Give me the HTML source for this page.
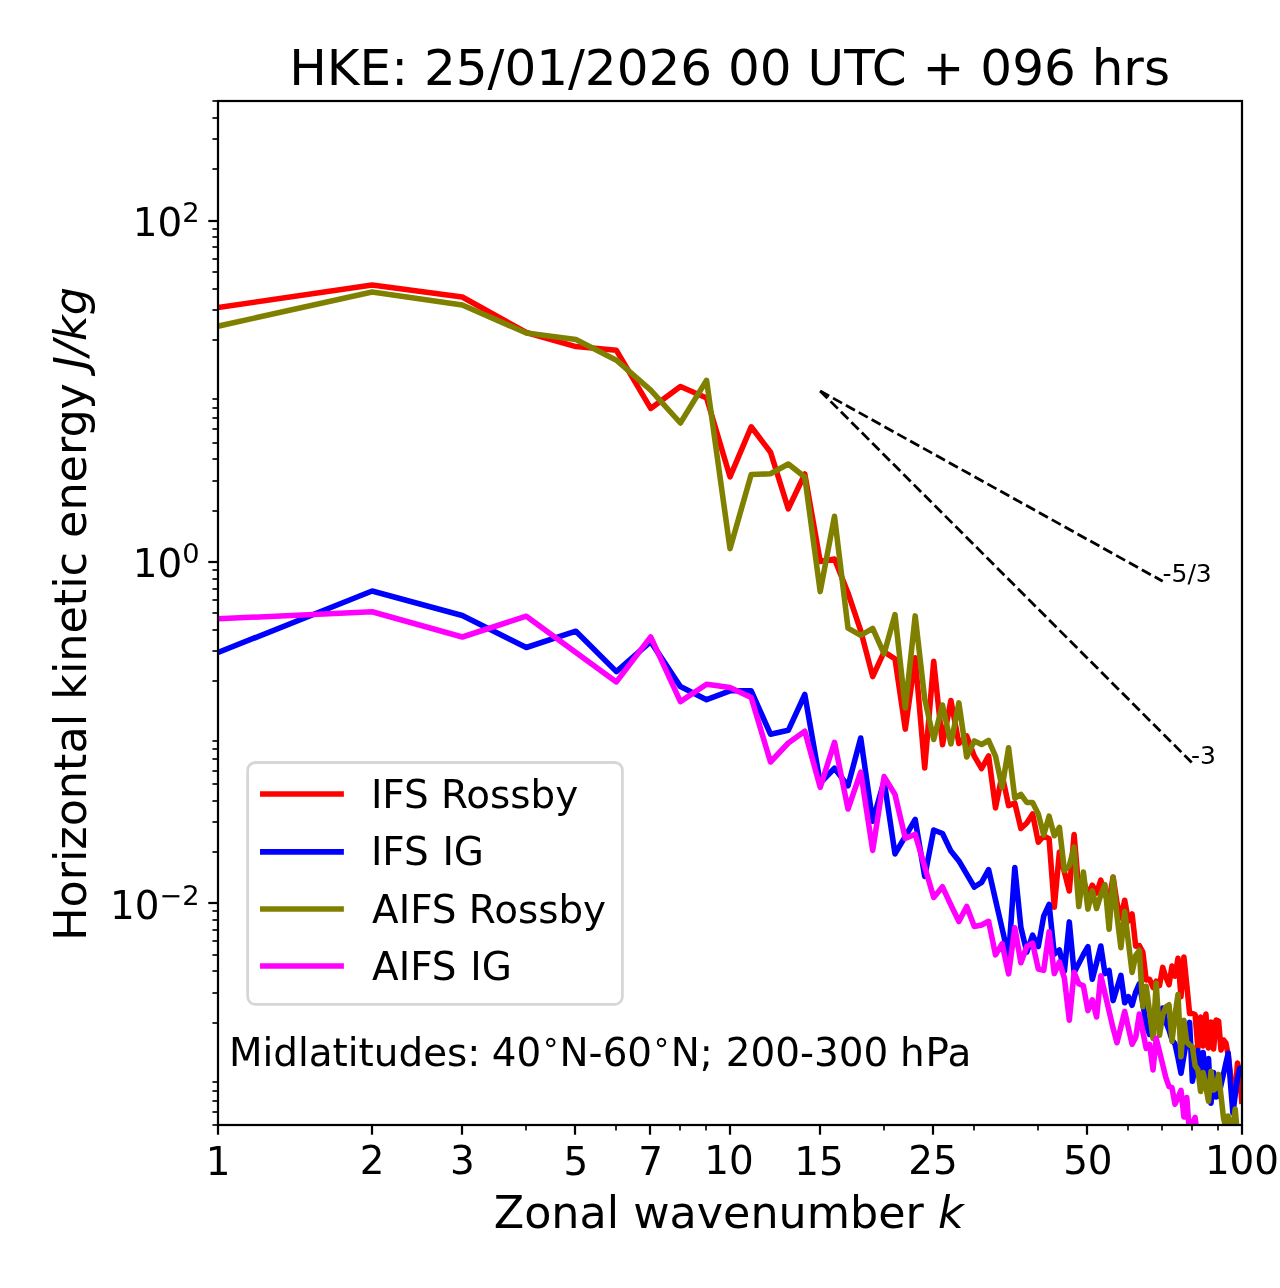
<!DOCTYPE html>
<html lang="en"><head><meta charset="utf-8"><title>HKE spectra</title>
<style>html,body{margin:0;padding:0;background:#fff}body{width:1280px;height:1288px;overflow:hidden}svg{display:block}text{font-family:"DejaVu Sans","Liberation Sans",sans-serif;fill:#000}.it{font-style:italic}</style>
</head><body>
<svg width="1280" height="1288" viewBox="0 0 1280 1288">
<rect x="0" y="0" width="1280" height="1288" fill="#fff"/>
<defs><clipPath id="ax"><rect x="218.0" y="101.0" width="1024.0" height="1024.0"/></clipPath></defs>
<g stroke="#000" fill="none">
<line x1="218" y1="1125.0" x2="218" y2="1134.72" stroke-width="2.22"/>
<line x1="372" y1="1125.0" x2="372" y2="1134.72" stroke-width="2.22"/>
<line x1="462" y1="1125.0" x2="462" y2="1134.72" stroke-width="2.22"/>
<line x1="575" y1="1125.0" x2="575" y2="1134.72" stroke-width="2.22"/>
<line x1="650" y1="1125.0" x2="650" y2="1134.72" stroke-width="2.22"/>
<line x1="730" y1="1125.0" x2="730" y2="1134.72" stroke-width="2.22"/>
<line x1="820" y1="1125.0" x2="820" y2="1134.72" stroke-width="2.22"/>
<line x1="933" y1="1125.0" x2="933" y2="1134.72" stroke-width="2.22"/>
<line x1="1087" y1="1125.0" x2="1087" y2="1134.72" stroke-width="2.22"/>
<line x1="1242" y1="1125.0" x2="1242" y2="1134.72" stroke-width="2.22"/>
<line x1="526" y1="1125.0" x2="526" y2="1130.56" stroke-width="1.67"/>
<line x1="616" y1="1125.0" x2="616" y2="1130.56" stroke-width="1.67"/>
<line x1="680" y1="1125.0" x2="680" y2="1130.56" stroke-width="1.67"/>
<line x1="706" y1="1125.0" x2="706" y2="1130.56" stroke-width="1.67"/>
<line x1="884" y1="1125.0" x2="884" y2="1130.56" stroke-width="1.67"/>
<line x1="974" y1="1125.0" x2="974" y2="1130.56" stroke-width="1.67"/>
<line x1="1038" y1="1125.0" x2="1038" y2="1130.56" stroke-width="1.67"/>
<line x1="1128" y1="1125.0" x2="1128" y2="1130.56" stroke-width="1.67"/>
<line x1="1162" y1="1125.0" x2="1162" y2="1130.56" stroke-width="1.67"/>
<line x1="1192" y1="1125.0" x2="1192" y2="1130.56" stroke-width="1.67"/>
<line x1="1218" y1="1125.0" x2="1218" y2="1130.56" stroke-width="1.67"/>
<line x1="218.0" y1="221" x2="208.28" y2="221" stroke-width="2.22"/>
<line x1="218.0" y1="562" x2="208.28" y2="562" stroke-width="2.22"/>
<line x1="218.0" y1="903" x2="208.28" y2="903" stroke-width="2.22"/>
<line x1="218.0" y1="1125" x2="212.44" y2="1125" stroke-width="1.67"/>
<line x1="218.0" y1="1112" x2="212.44" y2="1112" stroke-width="1.67"/>
<line x1="218.0" y1="1101" x2="212.44" y2="1101" stroke-width="1.67"/>
<line x1="218.0" y1="1091" x2="212.44" y2="1091" stroke-width="1.67"/>
<line x1="218.0" y1="1082" x2="212.44" y2="1082" stroke-width="1.67"/>
<line x1="218.0" y1="1023" x2="212.44" y2="1023" stroke-width="1.67"/>
<line x1="218.0" y1="993" x2="212.44" y2="993" stroke-width="1.67"/>
<line x1="218.0" y1="971" x2="212.44" y2="971" stroke-width="1.67"/>
<line x1="218.0" y1="955" x2="212.44" y2="955" stroke-width="1.67"/>
<line x1="218.0" y1="941" x2="212.44" y2="941" stroke-width="1.67"/>
<line x1="218.0" y1="930" x2="212.44" y2="930" stroke-width="1.67"/>
<line x1="218.0" y1="920" x2="212.44" y2="920" stroke-width="1.67"/>
<line x1="218.0" y1="911" x2="212.44" y2="911" stroke-width="1.67"/>
<line x1="218.0" y1="852" x2="212.44" y2="852" stroke-width="1.67"/>
<line x1="218.0" y1="822" x2="212.44" y2="822" stroke-width="1.67"/>
<line x1="218.0" y1="801" x2="212.44" y2="801" stroke-width="1.67"/>
<line x1="218.0" y1="784" x2="212.44" y2="784" stroke-width="1.67"/>
<line x1="218.0" y1="771" x2="212.44" y2="771" stroke-width="1.67"/>
<line x1="218.0" y1="759" x2="212.44" y2="759" stroke-width="1.67"/>
<line x1="218.0" y1="749" x2="212.44" y2="749" stroke-width="1.67"/>
<line x1="218.0" y1="741" x2="212.44" y2="741" stroke-width="1.67"/>
<line x1="218.0" y1="681" x2="212.44" y2="681" stroke-width="1.67"/>
<line x1="218.0" y1="651" x2="212.44" y2="651" stroke-width="1.67"/>
<line x1="218.0" y1="630" x2="212.44" y2="630" stroke-width="1.67"/>
<line x1="218.0" y1="613" x2="212.44" y2="613" stroke-width="1.67"/>
<line x1="218.0" y1="600" x2="212.44" y2="600" stroke-width="1.67"/>
<line x1="218.0" y1="589" x2="212.44" y2="589" stroke-width="1.67"/>
<line x1="218.0" y1="579" x2="212.44" y2="579" stroke-width="1.67"/>
<line x1="218.0" y1="570" x2="212.44" y2="570" stroke-width="1.67"/>
<line x1="218.0" y1="511" x2="212.44" y2="511" stroke-width="1.67"/>
<line x1="218.0" y1="481" x2="212.44" y2="481" stroke-width="1.67"/>
<line x1="218.0" y1="459" x2="212.44" y2="459" stroke-width="1.67"/>
<line x1="218.0" y1="443" x2="212.44" y2="443" stroke-width="1.67"/>
<line x1="218.0" y1="429" x2="212.44" y2="429" stroke-width="1.67"/>
<line x1="218.0" y1="418" x2="212.44" y2="418" stroke-width="1.67"/>
<line x1="218.0" y1="408" x2="212.44" y2="408" stroke-width="1.67"/>
<line x1="218.0" y1="399" x2="212.44" y2="399" stroke-width="1.67"/>
<line x1="218.0" y1="340" x2="212.44" y2="340" stroke-width="1.67"/>
<line x1="218.0" y1="310" x2="212.44" y2="310" stroke-width="1.67"/>
<line x1="218.0" y1="289" x2="212.44" y2="289" stroke-width="1.67"/>
<line x1="218.0" y1="272" x2="212.44" y2="272" stroke-width="1.67"/>
<line x1="218.0" y1="259" x2="212.44" y2="259" stroke-width="1.67"/>
<line x1="218.0" y1="247" x2="212.44" y2="247" stroke-width="1.67"/>
<line x1="218.0" y1="237" x2="212.44" y2="237" stroke-width="1.67"/>
<line x1="218.0" y1="229" x2="212.44" y2="229" stroke-width="1.67"/>
<line x1="218.0" y1="169" x2="212.44" y2="169" stroke-width="1.67"/>
<line x1="218.0" y1="139" x2="212.44" y2="139" stroke-width="1.67"/>
<line x1="218.0" y1="118" x2="212.44" y2="118" stroke-width="1.67"/>
<line x1="218.0" y1="101" x2="212.44" y2="101" stroke-width="1.67"/>
</g>
<g clip-path="url(#ax)">
<polyline points="218.0,307.5 372.1,285.0 462.3,297.0 526.3,332.5 575.9,346.6 616.4,350.3 650.7,408.4 680.4,386.5 706.6,398.0 730.0,476.8 751.2,426.8 770.5,452.2 788.3,508.8 804.8,474.0 820.2,561.5 834.5,559.0 848.0,593.0 860.7,630.6 872.7,676.6 884.1,651.9 895.0,658.8 905.3,729.1 915.2,657.8 924.7,767.9 933.7,661.2 942.5,744.8 950.9,700.5 958.9,743.5 966.7,735.9 974.3,756.2 981.6,768.5 988.6,755.9 995.5,807.9 1002.1,775.0 1008.6,805.6 1014.8,803.0 1020.9,828.5 1026.8,823.0 1032.6,814.0 1038.3,842.2 1043.7,836.0 1049.1,838.8 1054.3,907.2 1059.4,852.1 1064.4,872.0 1069.3,891.0 1074.1,834.6 1078.8,890.0 1083.4,880.0 1087.9,895.0 1092.3,885.2 1096.6,893.0 1100.8,880.2 1105.0,895.0 1109.1,900.0 1113.1,877.0 1117.0,903.0 1120.9,918.0 1124.7,900.2 1128.4,921.0 1132.1,914.0 1135.7,946.2 1139.3,945.5 1142.8,952.0 1146.2,980.0 1149.6,979.3 1153.0,987.5 1156.2,981.2 1159.5,985.5 1162.7,967.4 1165.8,977.0 1169.0,984.8 1172.0,966.1 1175.0,976.2 1178.0,958.2 1181.0,996.7 1183.9,957.0 1186.8,985.0 1189.6,1013.5 1192.4,1013.5 1195.1,1014.5 1197.9,1048.0 1200.6,1017.0 1203.2,1046.0 1205.9,1014.0 1208.5,1048.0 1211.0,1022.0 1213.6,1049.0 1216.1,1020.0 1218.6,1021.0 1221.0,1050.0 1223.5,1040.0 1225.9,1043.0 1228.2,1055.0 1230.6,1075.0 1232.9,1090.0 1235.2,1095.0 1237.5,1063.0 1239.8,1075.0 1242.0,1104.0" fill="none" stroke="#ff0000" stroke-width="5.56" stroke-linejoin="round" stroke-linecap="butt"/>
<polyline points="218.0,652.5 372.1,591.0 462.3,615.5 526.3,647.5 575.9,631.2 616.4,671.6 650.7,641.6 680.4,686.6 706.6,699.7 730.0,690.8 751.2,690.8 770.5,734.2 788.3,730.3 804.8,694.5 820.2,783.0 834.5,768.3 848.0,785.9 860.7,738.0 872.7,821.3 884.1,781.0 895.0,853.9 905.3,836.3 915.2,819.5 924.7,876.4 933.7,830.0 942.5,833.5 950.9,851.1 958.9,860.9 966.7,874.2 974.3,887.0 981.6,882.3 988.6,869.6 995.5,899.8 1002.1,928.5 1008.6,957.0 1014.8,867.5 1020.9,927.5 1026.8,952.1 1032.6,935.2 1038.3,946.5 1043.7,916.2 1049.1,904.3 1054.3,954.2 1059.4,950.0 1064.4,971.1 1069.3,921.9 1074.1,972.5 1078.8,963.5 1083.4,954.5 1087.9,946.7 1092.3,979.3 1096.6,962.7 1100.8,946.0 1105.0,973.6 1109.1,970.5 1113.1,1000.6 1117.0,988.0 1120.9,975.4 1124.7,1002.8 1128.4,996.7 1132.1,1005.3 1135.7,992.0 1139.3,983.8 1142.8,1003.0 1146.2,1025.0 1149.6,1034.5 1153.0,1030.0 1156.2,1020.0 1159.5,1025.0 1162.7,1008.0 1165.8,1022.0 1169.0,1030.0 1172.0,1040.0 1175.0,1044.0 1178.0,1058.0 1181.0,1073.2 1183.9,1056.0 1186.8,1039.0 1189.6,1022.4 1192.4,1081.2 1195.1,1066.0 1197.9,1050.5 1200.6,1085.0 1203.2,1052.4 1205.9,1088.0 1208.5,1058.5 1211.0,1103.2 1213.6,1072.6 1216.1,1097.0 1218.6,1096.0 1221.0,1085.0 1223.5,1074.0 1225.9,1063.0 1228.2,1053.3 1230.6,1085.0 1232.9,1113.0 1235.2,1095.0 1237.5,1078.0 1239.8,1068.3 1242.0,1072.0" fill="none" stroke="#0000ff" stroke-width="5.56" stroke-linejoin="round" stroke-linecap="butt"/>
<polyline points="218.0,326.2 372.1,292.0 462.3,305.0 526.3,333.0 575.9,339.6 616.4,360.2 650.7,390.2 680.4,423.0 706.6,380.3 730.0,548.7 751.2,474.5 770.5,473.8 788.3,464.0 804.8,477.0 820.2,591.6 834.5,516.3 848.0,628.1 860.7,635.3 872.7,628.4 884.1,653.8 895.0,614.6 905.3,707.9 915.2,615.9 924.7,699.0 933.7,739.5 942.5,705.0 950.9,743.9 958.9,702.9 966.7,757.0 974.3,740.9 981.6,744.5 988.6,740.5 995.5,756.2 1002.1,787.2 1008.6,747.8 1014.8,798.1 1020.9,794.3 1026.8,802.5 1032.6,802.5 1038.3,814.0 1043.7,835.0 1049.1,816.2 1054.3,835.7 1059.4,827.4 1064.4,870.4 1069.3,865.6 1074.1,847.1 1078.8,906.6 1083.4,872.1 1087.9,909.1 1092.3,890.9 1096.6,908.5 1100.8,895.0 1105.0,884.6 1109.1,929.3 1113.1,877.4 1117.0,916.0 1120.9,947.7 1124.7,911.6 1128.4,942.5 1132.1,972.5 1135.7,955.6 1139.3,950.2 1142.8,1006.7 1146.2,986.3 1149.6,1012.0 1153.0,1038.5 1156.2,983.4 1159.5,1035.3 1162.7,1015.0 1165.8,1007.0 1169.0,1004.8 1172.0,1041.3 1175.0,1015.0 1178.0,994.5 1181.0,1056.8 1183.9,1020.2 1186.8,1042.0 1189.6,1045.0 1192.4,1046.8 1195.1,1065.6 1197.9,1069.8 1200.6,1091.5 1203.2,1072.6 1205.9,1087.0 1208.5,1101.3 1211.0,1071.2 1213.6,1090.0 1216.1,1088.0 1218.6,1074.4 1221.0,1095.6 1223.5,1118.0 1225.9,1128.0 1228.2,1116.0 1230.6,1135.0 1232.9,1128.0 1235.2,1109.0 1237.5,1135.0 1239.8,1140.0 1242.0,1140.0" fill="none" stroke="#808000" stroke-width="5.56" stroke-linejoin="round" stroke-linecap="butt"/>
<polyline points="218.0,618.8 372.1,611.8 462.3,637.0 526.3,616.2 575.9,652.4 616.4,681.9 650.7,636.9 680.4,701.6 706.6,684.3 730.0,687.5 751.2,697.5 770.5,762.0 788.3,743.0 804.8,731.3 820.2,787.3 834.5,742.3 848.0,809.0 860.7,772.2 872.7,850.4 884.1,776.6 895.0,794.5 905.3,838.4 915.2,834.2 924.7,866.8 933.7,897.5 942.5,886.8 950.9,905.0 958.9,921.5 966.7,906.5 974.3,926.4 981.6,925.0 988.6,921.3 995.5,954.9 1002.1,943.7 1008.6,973.9 1014.8,927.8 1020.9,962.7 1026.8,946.5 1032.6,943.2 1038.3,969.0 1043.7,970.4 1049.1,931.7 1054.3,973.6 1059.4,962.0 1064.4,978.1 1069.3,1020.3 1074.1,972.2 1078.8,983.8 1083.4,985.9 1087.9,1010.6 1092.3,999.9 1096.6,1017.0 1100.8,975.7 1105.0,993.6 1109.1,1011.2 1113.1,1028.3 1117.0,1042.7 1120.9,1027.0 1124.7,1011.5 1128.4,1028.0 1132.1,1044.2 1135.7,1037.5 1139.3,1014.0 1142.8,1031.4 1146.2,1048.4 1149.6,1044.4 1153.0,1069.9 1156.2,1038.3 1159.5,1051.7 1162.7,1064.7 1165.8,1077.3 1169.0,1086.7 1172.0,1087.7 1175.0,1104.2 1178.0,1097.5 1181.0,1090.4 1183.9,1117.0 1186.8,1097.6 1189.6,1135.0 1192.4,1123.0 1195.1,1117.5 1197.9,1140.0 1200.6,1145.0 1203.2,1145.0 1205.9,1145.0 1208.5,1145.0 1211.0,1145.0 1213.6,1145.0 1216.1,1145.0 1218.6,1145.0 1221.0,1145.0 1223.5,1145.0 1225.9,1145.0 1228.2,1145.0 1230.6,1145.0 1232.9,1145.0 1235.2,1145.0 1237.5,1145.0 1239.8,1145.0 1242.0,1145.0" fill="none" stroke="#ff00ff" stroke-width="5.56" stroke-linejoin="round" stroke-linecap="butt"/>
<line x1="820.16" y1="390.96" x2="1162.69" y2="581.25" stroke="#000" stroke-width="2.78" stroke-dasharray="10.28 4.44"/>
<line x1="820.16" y1="390.96" x2="1192.38" y2="763.18" stroke="#000" stroke-width="2.78" stroke-dasharray="10.28 4.44"/>
</g>
<rect x="218.0" y="101.0" width="1024.0" height="1024.0" fill="none" stroke="#000" stroke-width="2.22"/>
<rect x="247.65" y="762.5" width="374.75" height="241.9" rx="7.8" ry="7.8" fill="#fff" fill-opacity="0.8" stroke="#ccc" stroke-opacity="0.8" stroke-width="2.78"/>
<line x1="262.8" y1="794.0" x2="341.1" y2="794.0" stroke="#ff0000" stroke-width="5.56" stroke-linecap="square"/>
<text x="370.9" y="807.9" font-size="38.89">IFS Rossby</text>
<line x1="262.8" y1="851.9" x2="341.1" y2="851.9" stroke="#0000ff" stroke-width="5.56" stroke-linecap="square"/>
<text x="370.9" y="864.9" font-size="38.89">IFS <tspan dx="1.3">IG</tspan></text>
<line x1="262.8" y1="909.0" x2="341.1" y2="909.0" stroke="#808000" stroke-width="5.56" stroke-linecap="square"/>
<text x="372.1" y="922.9" font-size="38.89">AIFS Rossby</text>
<line x1="262.8" y1="966.0" x2="341.1" y2="966.0" stroke="#ff00ff" stroke-width="5.56" stroke-linecap="square"/>
<text x="372.1" y="979.8" font-size="38.89">AIFS <tspan dx="1.3">IG</tspan></text>
<text x="228.9" y="1065.9" font-size="38.89">Midlatitudes: <tspan dx="-1">40</tspan><tspan font-size="30.33" dy="-13.42">∘</tspan><tspan dy="13.42" dx="-0.7">N-60</tspan><tspan font-size="30.33" dy="-13.42">∘</tspan><tspan dy="13.42" dx="-0.4">N; </tspan><tspan dx="0.5">200-300 </tspan><tspan dx="-0.5">h</tspan><tspan dx="0.7">P</tspan><tspan dx="0.5">a</tspan></text>
<text x="1162.5" y="582" font-size="25.00">-5/3</text>
<text x="1191" y="764" font-size="25.00">-3</text>
<text x="729.6" y="85" font-size="50.00" text-anchor="middle">HKE: 25/01/2026 00 UTC + 096 hrs</text>
<text x="218.00" y="1175" font-size="38.89" text-anchor="middle">1</text>
<text x="372.13" y="1174.3" font-size="38.89" text-anchor="middle">2</text>
<text x="462.29" y="1173.8" font-size="38.89" text-anchor="middle">3</text>
<text x="575.87" y="1175" font-size="38.89" text-anchor="middle">5</text>
<text x="650.69" y="1175" font-size="38.89" text-anchor="middle">7</text>
<text x="729.00" y="1174" font-size="38.89" text-anchor="middle">10</text>
<text x="818.96" y="1175" font-size="38.89" text-anchor="middle">15</text>
<text x="933.05" y="1174" font-size="38.89" text-anchor="middle">25</text>
<text x="1087.87" y="1174" font-size="38.89" text-anchor="middle">50</text>
<text x="1242.00" y="1174" font-size="38.89" text-anchor="middle">100</text>
<text x="199.6" y="235.7" font-size="38.89" text-anchor="end">10<tspan font-size="27.22" dy="-14.08">2</tspan></text>
<text x="199.6" y="576.6" font-size="38.89" text-anchor="end">10<tspan font-size="27.22" dy="-14.08">0</tspan></text>
<text x="199.6" y="918.7" font-size="38.89" text-anchor="end">10<tspan font-size="27.22" dy="-14.08">−2</tspan></text>
<text x="728.7" y="1228" font-size="44.44" text-anchor="middle">Zonal wavenumber <tspan class="it">k</tspan></text>
<text transform="translate(86,613.9) rotate(-90)" font-size="44.44" text-anchor="middle">Horizontal kinetic energy <tspan class="it">J/kg</tspan></text>
</svg></body></html>
